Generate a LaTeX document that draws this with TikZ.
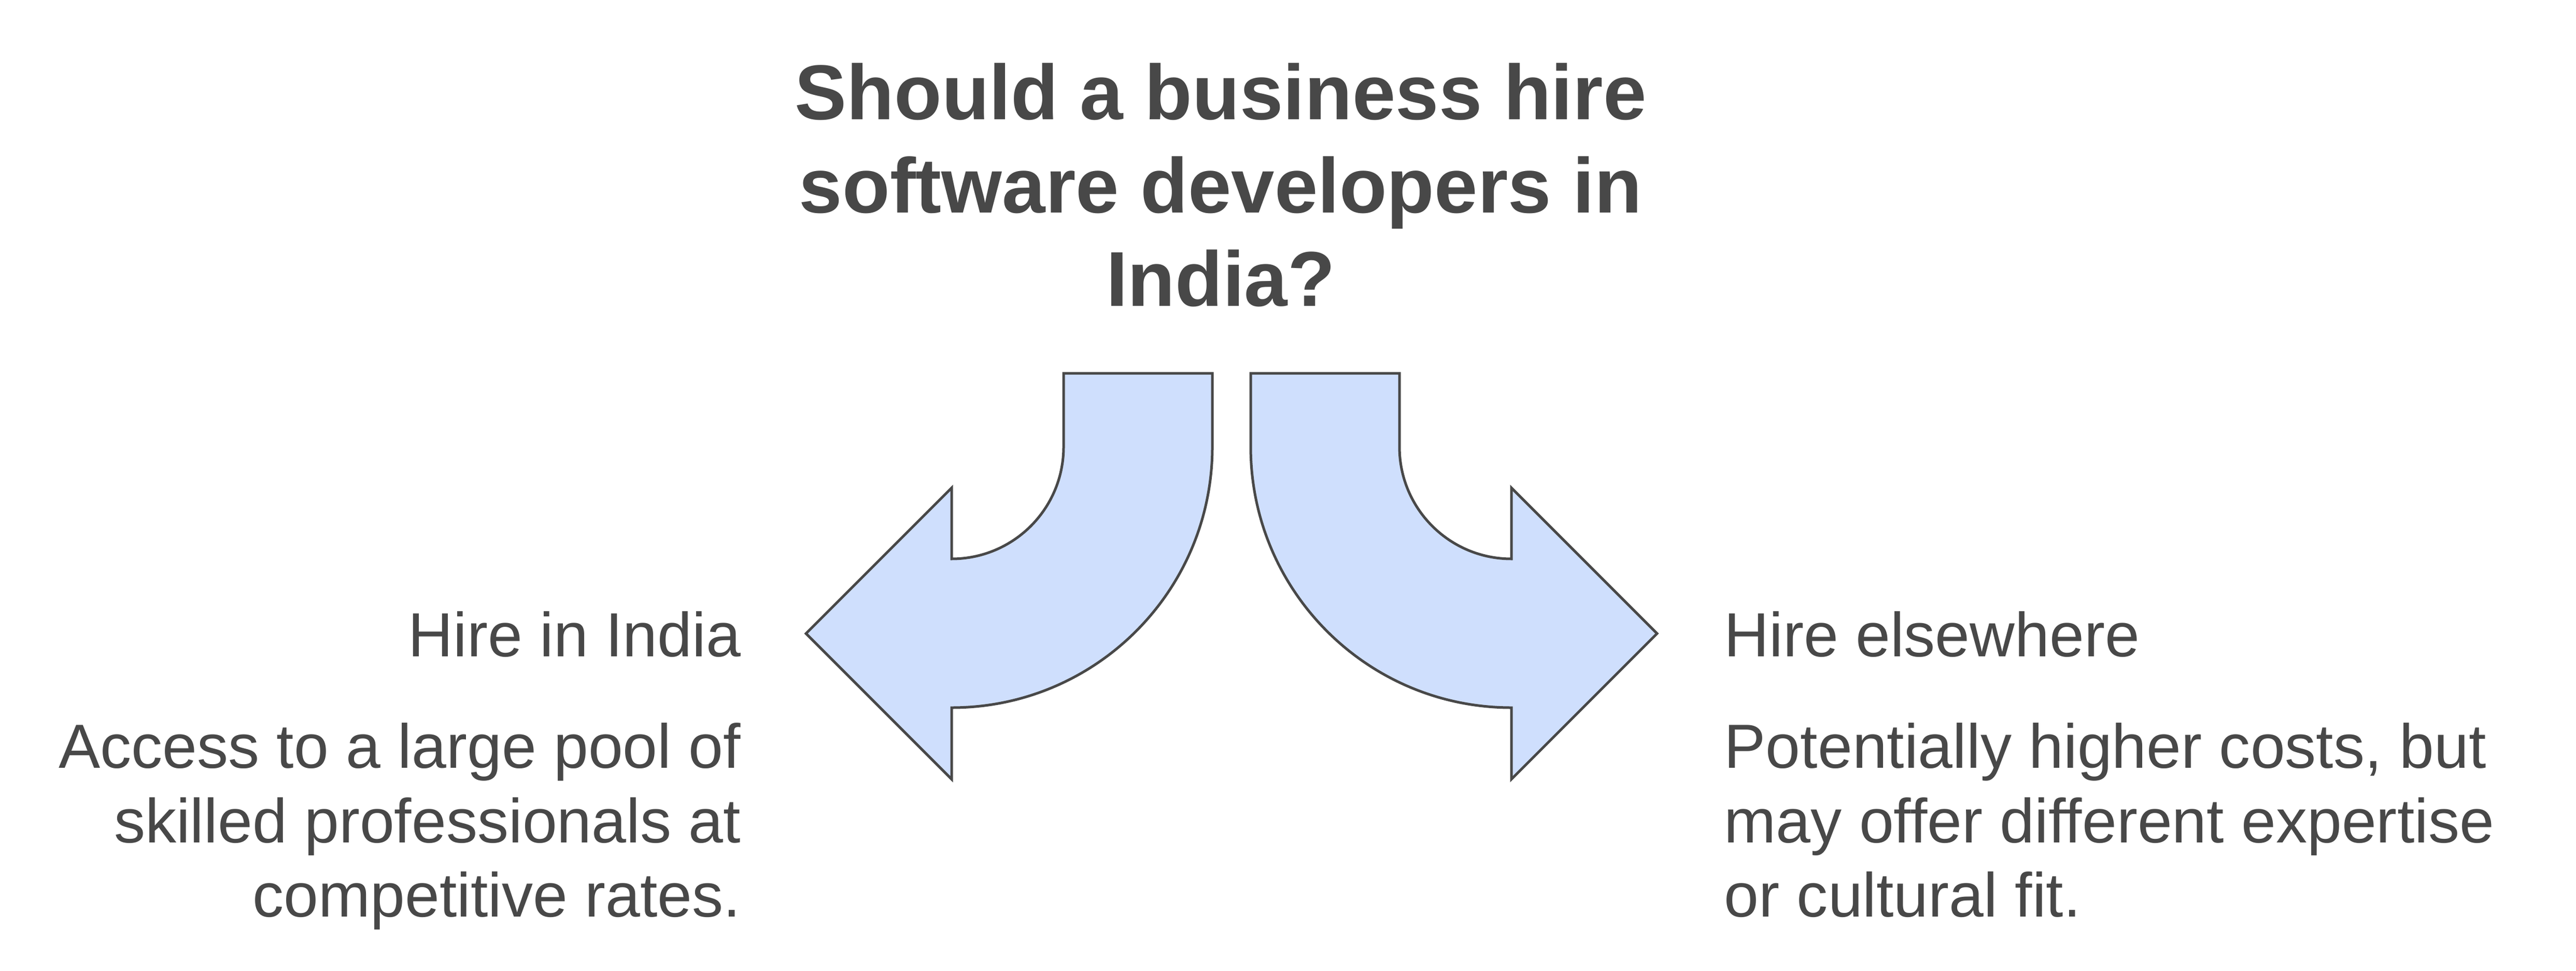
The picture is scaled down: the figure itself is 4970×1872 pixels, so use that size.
\documentclass[tikz,border=0pt]{standalone}
\usepackage{fontspec}
\setmainfont{Liberation Sans}
\usepackage{xcolor}
\definecolor{ink}{RGB}{72,72,72}
\definecolor{bend}{RGB}{207,223,253}
\tikzstyle{bendarrow}=[fill=bend, draw=ink, line width=0.5mm, line join=miter]
\tikzstyle{question}=[text=ink, inner sep=0, align=center, font=\fontsize{42.7}{51.2}\selectfont\bfseries]
\tikzstyle{choice}=[text=ink, inner sep=0, font=\fontsize{34.2}{40.8}\selectfont]

\begin{document}
\begin{tikzpicture}[x=0.1mm, y=-0.1mm]
  \useasboundingbox (0,0) rectangle (4970,1872);

  \draw (2355,121) node[question, anchor=north] (Q) {Should a business hire\\software developers in\\India?};

  %% Left arrow, towards India
  \draw[bendarrow] (2052,720) -- (2339,720) -- (2339,862) arc (0:90:503)
    -- (1836,1503) -- (1555,1222) -- (1836,941) -- (1836,1078) arc (90:0:216) -- cycle;
  %% Right arrow, towards elsewhere
  \draw[bendarrow] (2700,720) -- (2413,720) -- (2413,862) arc (180:90:503)
    -- (2916,1503) -- (3197,1222) -- (2916,941) -- (2916,1078) arc (90:180:216) -- cycle;

  %% Left side
  \draw (1430,1179) node[choice, anchor=north east] (L1) {Hire in India};
  \draw (1430,1394) node[choice, anchor=north east, align=right] (L2) {Access to a large pool of\\skilled professionals at\\competitive rates.};

  %% Right side
  \draw (3326,1179) node[choice, anchor=north west] (R1) {Hire elsewhere};
  \draw (3326,1394) node[choice, anchor=north west, align=left] (R2) {Potentially higher costs, but\\may offer different expertise\\or cultural fit.};
\end{tikzpicture}
\end{document}
